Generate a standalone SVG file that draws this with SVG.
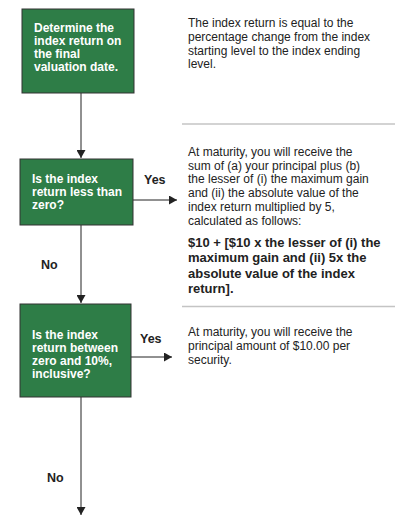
<svg xmlns="http://www.w3.org/2000/svg" width="402" height="523" viewBox="0 0 402 523">
<style>
.box{fill:#2e7d47;stroke:#333;stroke-width:1}
.bt{font-family:"Liberation Sans",Arial,sans-serif;font-weight:bold;font-size:12px;fill:#fff}
.lbl{font-family:"Liberation Sans",Arial,sans-serif;font-weight:bold;font-size:12.5px;fill:#222}
.rt{font-family:"Liberation Sans",Arial,sans-serif;font-size:12px;fill:#222}
.rb{font-family:"Liberation Sans",Arial,sans-serif;font-size:13px;font-weight:bold;fill:#222}
.sep{stroke:#c4c4c4;stroke-width:1.5}
.con{stroke:#222;stroke-width:1;fill:none}
</style>
<defs>
<marker id="ah" markerWidth="9" markerHeight="9" refX="8" refY="4.5" orient="auto" markerUnits="userSpaceOnUse">
<path d="M0,0 L8,4.5 L0,9 Z" fill="#222"/>
</marker>
</defs>
<rect width="402" height="523" fill="#fff"/>
<g id="connectors">
<line class="con" x1="81" y1="93" x2="81" y2="158" marker-end="url(#ah)"/>
<line class="con" x1="133" y1="200" x2="177" y2="200" marker-end="url(#ah)"/>
<line class="con" x1="81" y1="225" x2="81" y2="303" marker-end="url(#ah)"/>
<line class="con" x1="131" y1="357" x2="172" y2="357" marker-end="url(#ah)"/>
<line class="con" x1="81" y1="397" x2="81" y2="515" marker-end="url(#ah)"/>
<text class="lbl" x="144" y="184">Yes</text>
<text class="lbl" x="41" y="269">No</text>
<text class="lbl" x="140" y="343">Yes</text>
<text class="lbl" x="47" y="482">No</text>
</g>
<g id="node1">
<rect class="box" x="22" y="9" width="112" height="84"/>
<text class="bt" x="34" y="32">Determine the</text>
<text class="bt" x="34" y="45">index return on</text>
<text class="bt" x="34" y="58">the final</text>
<text class="bt" x="34" y="71">valuation date.</text>
</g>
<g id="node2">
<rect class="box" x="20" y="159" width="113" height="66"/>
<text class="bt" x="32" y="183">Is the index</text>
<text class="bt" x="32" y="196">return less than</text>
<text class="bt" x="32" y="209">zero?</text>
</g>
<g id="node3">
<rect class="box" x="20" y="304" width="111" height="93"/>
<text class="bt" x="32" y="339">Is the index</text>
<text class="bt" x="32" y="352">return between</text>
<text class="bt" x="32" y="365">zero and 10%,</text>
<text class="bt" x="32" y="378">inclusive?</text>
</g>
<g id="desc1">
<text class="rt" x="188" y="27">The index return is equal to the</text>
<text class="rt" x="188" y="41">percentage change from the index</text>
<text class="rt" x="188" y="55">starting level to the index ending</text>
<text class="rt" x="188" y="68">level.</text>
<line class="sep" x1="182" y1="124" x2="395" y2="124"/>
</g>
<g id="desc2">
<text class="rt" x="188" y="156">At maturity, you will receive the</text>
<text class="rt" x="188" y="169.5">sum of (a) your principal plus (b)</text>
<text class="rt" x="188" y="183.3">the lesser of (i) the maximum gain</text>
<text class="rt" x="188" y="197.3">and (ii) the absolute value of the</text>
<text class="rt" x="188" y="211">index return multiplied by 5,</text>
<text class="rt" x="188" y="225">calculated as follows:</text>
<text class="rb" x="188" y="246.7">$10 + [$10 x the lesser of (i) the</text>
<text class="rb" x="188" y="262.3">maximum gain and (ii) 5x the</text>
<text class="rb" x="188" y="277.7">absolute value of the index</text>
<text class="rb" x="188" y="293.3">return].</text>
<line class="sep" x1="182" y1="306.5" x2="395" y2="306.5"/>
</g>
<g id="desc3">
<text class="rt" x="188" y="335.7">At maturity, you will receive the</text>
<text class="rt" x="188" y="350">principal amount of $10.00 per</text>
<text class="rt" x="188" y="364.3">security.</text>
</g>
</svg>
